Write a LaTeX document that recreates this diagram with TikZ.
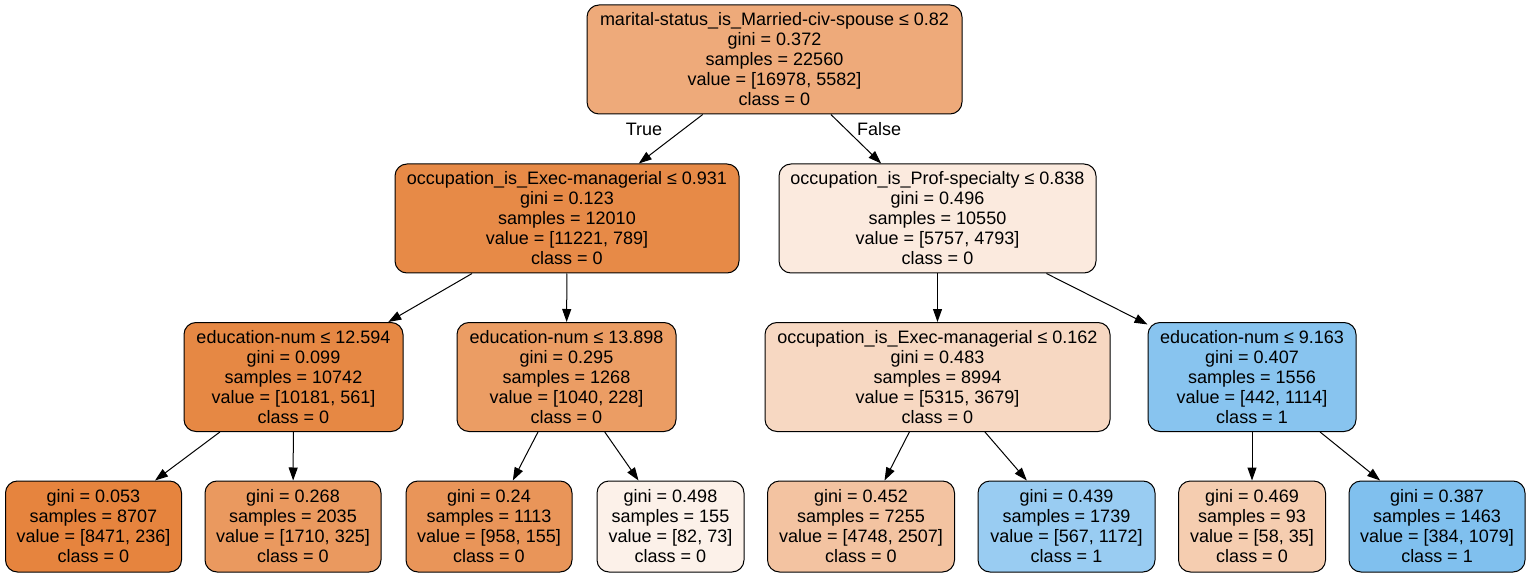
\documentclass[tikz,border=0pt]{standalone}
\usepackage{fontspec}
\setmainfont{Liberation Sans}
\usetikzlibrary{arrows.meta}
\definecolor{dtroot}{HTML}{EEAA7A}
\definecolor{dtleft}{HTML}{E78A47}
\definecolor{dtright}{HTML}{FBEADE}
\definecolor{dtedua}{HTML}{E68844}
\definecolor{dtedub}{HTML}{EB9D64}
\definecolor{dtexec}{HTML}{F7D8C2}
\definecolor{dteduc}{HTML}{88C4EF}
\definecolor{dtlfa}{HTML}{E6843E}
\definecolor{dtlfb}{HTML}{EA995F}
\definecolor{dtlfc}{HTML}{E99559}
\definecolor{dtlfd}{HTML}{FCF1E9}
\definecolor{dtlfe}{HTML}{F3C3A1}
\definecolor{dtlff}{HTML}{99CCF2}
\definecolor{dtlfg}{HTML}{F5CDB0}
\definecolor{dtlfh}{HTML}{80C0EE}

\begin{document}
\begin{tikzpicture}[x=1pt,y=-1pt,
  split/.style={draw,line width=1pt,rounded corners=12pt,align=center,
                inner sep=0pt,minimum height=109pt,
                font=\fontsize{18}{20}\selectfont},
  leaf/.style={split,minimum height=91pt},
  edge/.style={line width=1pt,-{Triangle[length=13pt,width=9pt]}},
  lbl/.style={font=\fontsize{18}{20}\selectfont}
]
\useasboundingbox (0,0) rectangle (1531,577);

% ---- Root --------------------------------------------------
\node[split,fill=dtroot,minimum width=375pt] (root) at (774.5,59.5)
  {marital-status\_is\_Married-civ-spouse ≤ 0.82\\gini = 0.372\\
   samples = 22560\\value = [16978, 5582]\\class = 0};

% ---- Level 1 -----------------------------------------------
\node[split,fill=dtleft,minimum width=344pt] (occexec) at (567,218.5)
  {occupation\_is\_Exec-managerial ≤ 0.931\\gini = 0.123\\
   samples = 12010\\value = [11221, 789]\\class = 0};
\node[split,fill=dtright,minimum width=317pt] (occprof) at (937.5,218.5)
  {occupation\_is\_Prof-specialty ≤ 0.838\\gini = 0.496\\
   samples = 10550\\value = [5757, 4793]\\class = 0};

% ---- Level 2 -----------------------------------------------
\node[split,fill=dtedua,minimum width=219pt] (edua) at (293.5,377)
  {education-num ≤ 12.594\\gini = 0.099\\
   samples = 10742\\value = [10181, 561]\\class = 0};
\node[split,fill=dtedub,minimum width=219pt] (edub) at (566.5,377)
  {education-num ≤ 13.898\\gini = 0.295\\
   samples = 1268\\value = [1040, 228]\\class = 0};
\node[split,fill=dtexec,minimum width=345pt] (exec) at (937.5,377)
  {occupation\_is\_Exec-managerial ≤ 0.162\\gini = 0.483\\
   samples = 8994\\value = [5315, 3679]\\class = 0};
\node[split,fill=dteduc,minimum width=208pt] (educ) at (1252,377)
  {education-num ≤ 9.163\\gini = 0.407\\
   samples = 1556\\value = [442, 1114]\\class = 1};

% ---- Leaves ------------------------------------------------
\node[leaf,fill=dtlfa,minimum width=176pt] (lfa) at (93.5,526.5)
  {gini = 0.053\\samples = 8707\\value = [8471, 236]\\class = 0};
\node[leaf,fill=dtlfb,minimum width=176pt] (lfb) at (293,526.5)
  {gini = 0.268\\samples = 2035\\value = [1710, 325]\\class = 0};
\node[leaf,fill=dtlfc,minimum width=166pt] (lfc) at (489,526.5)
  {gini = 0.24\\samples = 1113\\value = [958, 155]\\class = 0};
\node[leaf,fill=dtlfd,minimum width=147pt] (lfd) at (670.5,526.5)
  {gini = 0.498\\samples = 155\\value = [82, 73]\\class = 0};
\node[leaf,fill=dtlfe,minimum width=187pt] (lfe) at (861,526.5)
  {gini = 0.452\\samples = 7255\\value = [4748, 2507]\\class = 0};
\node[leaf,fill=dtlff,minimum width=177pt] (lff) at (1066.5,526.5)
  {gini = 0.439\\samples = 1739\\value = [567, 1172]\\class = 1};
\node[leaf,fill=dtlfg,minimum width=147pt] (lfg) at (1252,526.5)
  {gini = 0.469\\samples = 93\\value = [58, 35]\\class = 0};
\node[leaf,fill=dtlfh,minimum width=176pt] (lfh) at (1437,526.5)
  {gini = 0.387\\samples = 1463\\value = [384, 1079]\\class = 1};

% ---- Edges -------------------------------------------------
\draw[edge] (root) -- (occexec);
\draw[edge] (root) -- (occprof);
\node[lbl] (truelbl) at (644,129) {True};
\node[lbl] (falselbl) at (879,129) {False};

\draw[edge] (occexec) -- (edua);
\draw[edge] (occexec) -- (edub);
\draw[edge] (occprof) -- (exec);
\draw[edge] (occprof) -- (educ);

\draw[edge] (edua) -- (lfa);
\draw[edge] (edua) -- (lfb);
\draw[edge] (edub) -- (lfc);
\draw[edge] (edub) -- (lfd);
\draw[edge] (exec) -- (lfe);
\draw[edge] (exec) -- (lff);
\draw[edge] (educ) -- (lfg);
\draw[edge] (educ) -- (lfh);

\end{tikzpicture}
\end{document}
